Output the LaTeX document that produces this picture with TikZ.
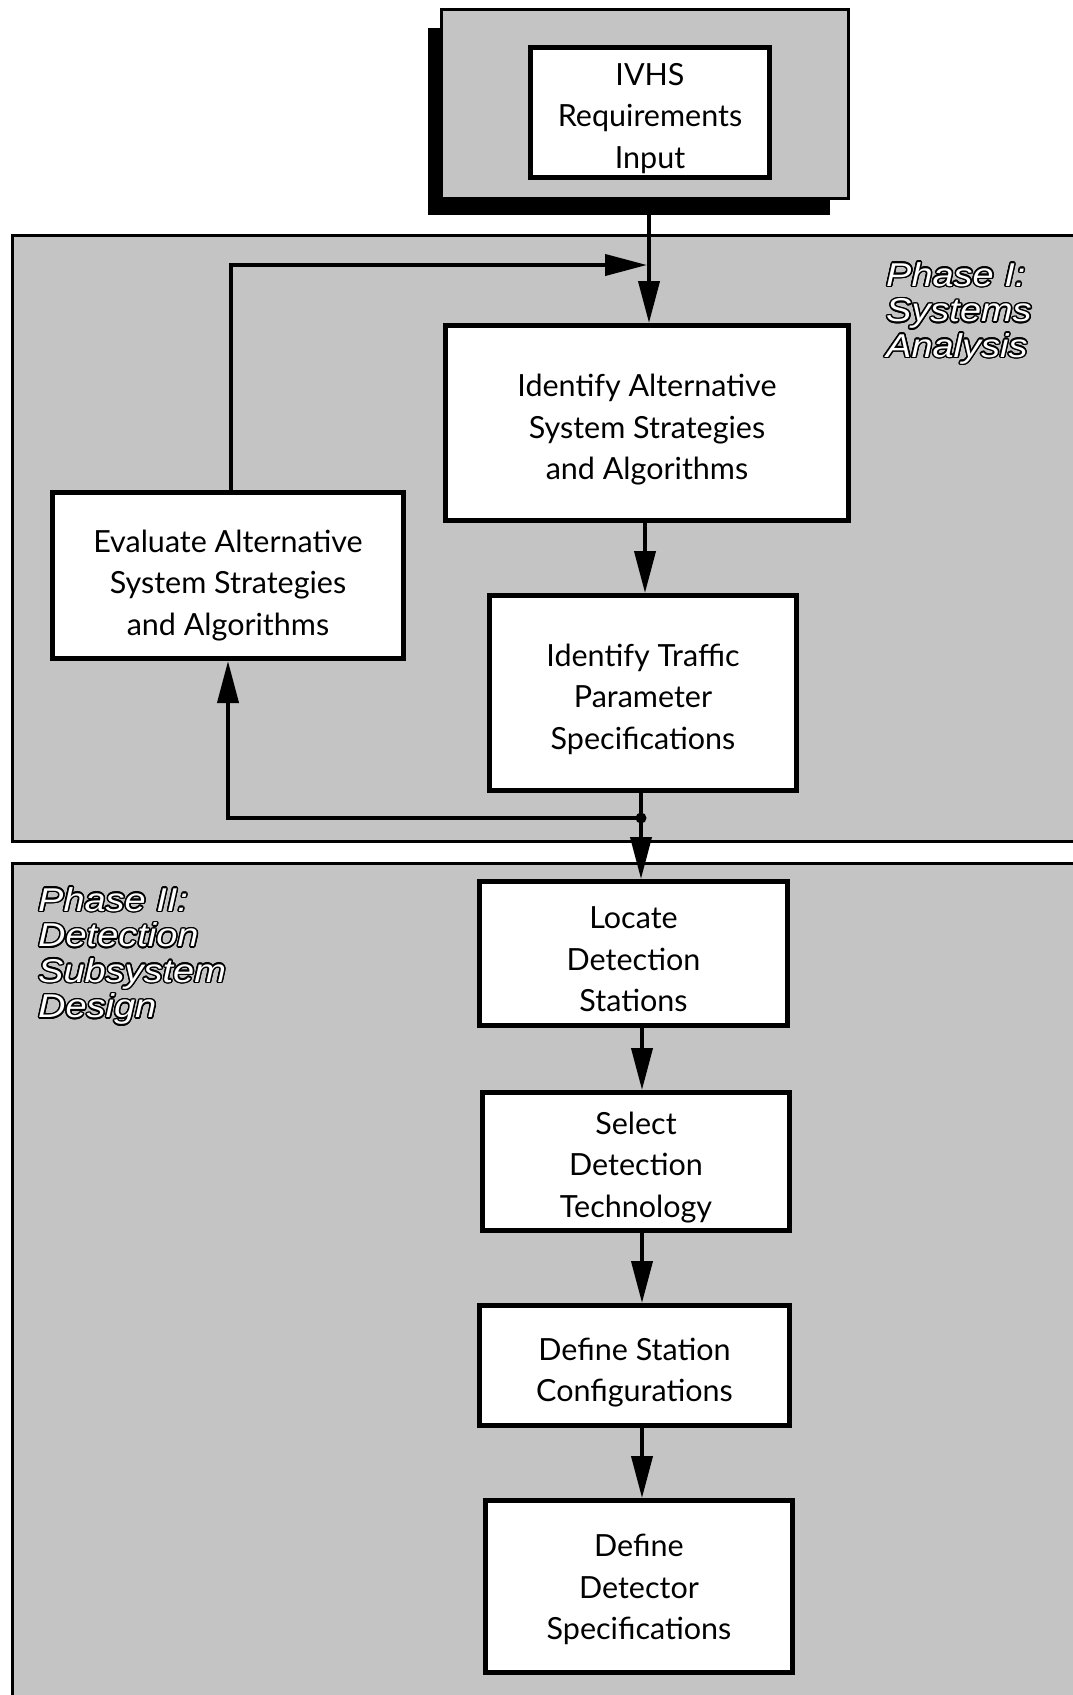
\documentclass[tikz,border=0pt]{standalone}
\usepackage{fontspec}
\setmainfont{Lato}
\newfontfamily\phasefont[FakeStretch=1.15]{Liberation Sans}
\usetikzlibrary{arrows.meta}
\newcommand{\boxfont}{\fontsize{30.5}{41.5}\selectfont}
\newcommand{\phfont}{\phasefont\itshape\fontsize{33}{35.5}\selectfont}
\tikzset{
  panel/.style={fill=black!23, draw=black, line width=3pt},
  stepbox/.style={draw=black, fill=white, line width=5pt, inner sep=0pt},
  boxtext/.style={align=center, inner sep=0pt, font=\boxfont},
  conn/.style={line width=4pt, -{Triangle[length=42pt,width=21pt]}},
  phaselbl/.style={anchor=north west, align=left, inner sep=0pt, font=\phfont},
}
\begin{document}
\begin{tikzpicture}[x=1pt,y=-1pt]
\useasboundingbox (0,0) rectangle (1073,1695);
\clip (0,0) rectangle (1073,1695);
% panels
\draw[panel] (12,235) rectangle (1100,841);
\draw[panel] (12,863) rectangle (1100,1720);
% top box with shadow
\fill[black] (428,28) rectangle (830,215);
\node[draw=black, line width=2.5pt, fill=black!23, minimum width=407, minimum height=189, inner sep=0pt] (topbox) at (645,104) {};
\node[stepbox, minimum width=239, minimum height=130] (ivhs) at (650,112.5) {};
\node[boxtext] (ivhsT) at ([yshift=-6pt]ivhs.center) {IVHS\\Requirements\\Input};
% phase I boxes
\node[stepbox, minimum width=403, minimum height=195] (ident) at (647,423) {};
\node[boxtext] (identT) at ([yshift=-7pt]ident.center) {Identify Alternative\\System Strategies\\and Algorithms};
\node[stepbox, minimum width=351, minimum height=166] (eval) at (228,575.5) {};
\node[boxtext] (evalT) at ([yshift=-10pt]eval.center) {Evaluate Alternative\\System Strategies\\and Algorithms};
\node[stepbox, minimum width=307, minimum height=195] (traffic) at (643,693) {};
\node[boxtext] (trafficT) at ([yshift=-6pt]traffic.center) {Identify Traffic\\Parameter\\Specifications};
% phase II boxes
\node[stepbox, minimum width=308, minimum height=144] (locate) at (633.5,953.5) {};
\node[boxtext] (locateT) at ([yshift=-6pt]locate.center) {Locate\\Detection\\Stations};
\node[stepbox, minimum width=307, minimum height=138] (select) at (636,1161.5) {};
\node[boxtext] (selectT) at ([yshift=-6pt]select.center) {Select\\Detection\\Technology};
\node[stepbox, minimum width=310, minimum height=120] (station) at (634.5,1365.5) {};
\node[boxtext] (stationT) at ([yshift=-7pt]station.center) {Define Station\\Configurations};
\node[stepbox, minimum width=307, minimum height=172] (detector) at (639,1586.5) {};
\node[boxtext] (detectorT) at ([yshift=-3pt]detector.center) {Define\\Detector\\Specifications};
% connector columns
\coordinate (cA) at (649,0);
\coordinate (cB) at (645,0);
\coordinate (cD) at (642,0);
\coordinate (fbL) at (231,265);
\coordinate (fbR) at (647,265);
\coordinate (jdot) at (641,818);
\coordinate (upx) at (228,0);
% connectors
\draw[conn] (topbox.south -| cA) -- (ident.north -| cA);
\draw[conn] (eval.north -| fbL) |- (fbR);
\draw[conn] (ident.south -| cB) -- (traffic.north -| cB);
\draw[conn] (traffic.south -| jdot) -- (locate.north -| jdot);
\draw[conn] (jdot) -| (eval.south -| upx);
\fill[black] (jdot) circle (5.5pt);
\draw[conn] (locate.south -| cD) -- (select.north -| cD);
\draw[conn] (select.south -| cD) -- (station.north -| cD);
\draw[conn] (station.south -| cD) -- (detector.north -| cD);
% phase labels (outlined)
\coordinate (ph1) at (886,262);
\coordinate (ph2) at (38,887);
\foreach \a in {0,22.5,...,337.5} {
  \node[phaselbl, text=black, shift={(\a:1.5pt)}] at (ph1) {Phase I:\\Systems\\Analysis};
  \node[phaselbl, text=black, shift={(\a:1.5pt)}] at (ph2) {Phase II:\\Detection\\Subsystem\\Design};
}
\node[phaselbl, text=white] (phaseone) at (ph1) {Phase I:\\Systems\\Analysis};
\node[phaselbl, text=white] (phasetwo) at (ph2) {Phase II:\\Detection\\Subsystem\\Design};
\end{tikzpicture}
\end{document}
